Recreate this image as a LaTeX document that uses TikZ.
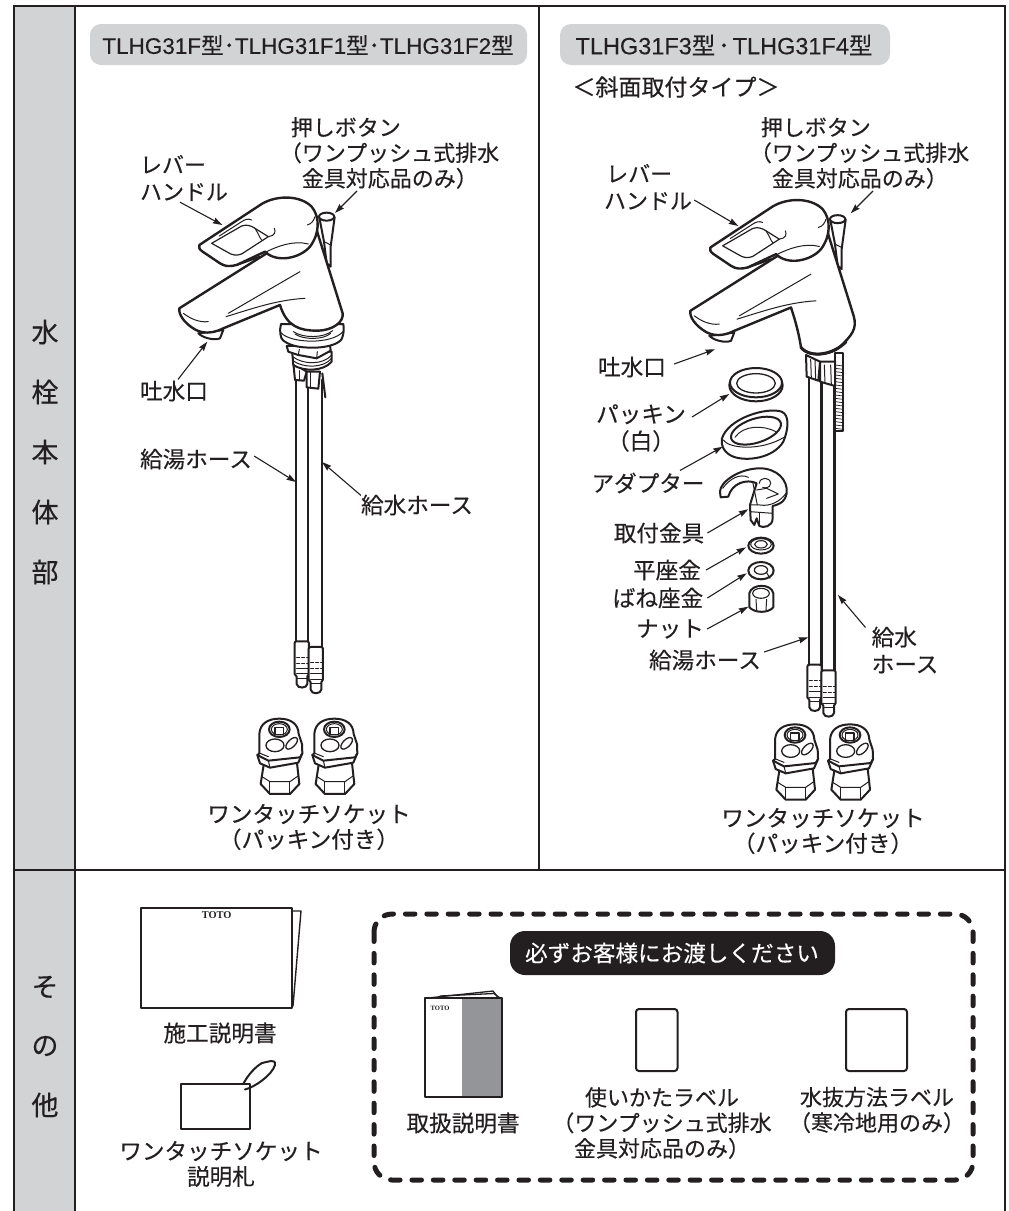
\documentclass[tikz,border=0pt]{standalone}
\usepackage{fontspec}
\setmainfont{Noto Sans CJK JP}[FakeBold=0.3]
\newfontfamily\latfont{Liberation Sans}[FakeBold=0.15]
\newfontfamily\serfont{Liberation Serif}
\usetikzlibrary{arrows.meta}
\definecolor{ink}{HTML}{231F20}
\definecolor{sidegray}{HTML}{D1D3D4}
\definecolor{bookgray}{HTML}{939598}
\newcommand{\Dot}{･}
\newcommand{\DotW}{\kern.12em ･\kern.12em }
\newcommand{\Lat}[1]{{\latfont #1}}
\tikzset{
 ln/.style={line width=2pt,draw=ink,line join=round,line cap=round},
 lf/.style={ln,fill=white},
 thn/.style={line width=1pt,draw=ink,line join=round,line cap=round},
 frame/.style={line width=2.2pt,draw=ink},
 ldr/.style={line width=1.1pt,draw=ink,-{Stealth[length=9.5pt,width=6pt,inset=1pt]}},
 lbl/.style={inner sep=0pt,text=ink,font=\fontsize{22.6}{25.5}\selectfont},
 lblS/.style={inner sep=0pt,text=ink,font=\fontsize{22}{25.5}\selectfont},
 lblL/.style={lbl,align=left},
 lblC/.style={lbl,align=center},
 side/.style={inner sep=0pt,text=ink,font=\fontsize{27}{30}\selectfont},
 pill/.style={fill=sidegray,rounded corners=11pt},
 toto/.style={inner sep=0pt,text=ink,font=\serfont\bfseries},
 zm/.style={x=.3333pt,y=-.3333pt},
}
% faucet in the coordinates of crop (120,100)x3; #1 is the neck run from (668,640) back to (480,615)
\newcommand{\faucetTop}[1]{
 \draw[lf] (598,352) -- (612,425) -- (620,490) -- (632,500) -- (632,440) -- (644,352) -- cycle;
 \draw[lf] (620,350) ellipse [x radius=23,y radius=12];
 \draw[thn] (612,425) -- (632,435);
 \draw[lf] (235,700) .. controls (250,715) and (285,722) .. (300,715) -- (310,690) -- cycle;
 \draw[lf,line width=2.4pt] (178,625) -- (440,460) -- (590,390) -- (668,640) #1
   -- (310,685) .. controls (280,700) and (245,705) .. (215,682) .. controls (195,668) and (175,645) .. (178,625) -- cycle;
 \draw[thn] (190,640) .. controls (210,655) and (235,668) .. (265,665);
 \draw[thn] (325,640) -- (540,515);
 \draw[thn] (318,650) .. controls (400,625) and (470,600) .. (555,595);
 \draw[lf,line width=2.4pt] (238,435) -- (425,312) .. controls (470,285) and (540,285) .. (575,320)
   .. controls (600,350) and (600,400) .. (570,440) .. controls (540,475) and (470,490) .. (435,455)
   -- (350,495) .. controls (330,500) and (315,500) .. (300,490) -- (248,455) .. controls (238,448) and (235,442) .. (238,435) -- cycle;
 \draw[ln,line width=1.2pt] (275,430) -- (365,378) .. controls (380,372) and (395,378) .. (405,385) -- (445,410)
    -- (365,462) .. controls (350,468) and (335,465) .. (325,458) -- cycle;
 \draw[thn] (298,408) -- (365,365) .. controls (375,358) and (385,355) .. (395,360);
 \draw[thn] (405,385) .. controls (415,400) and (420,415) .. (425,420);
 \draw[thn] (445,410) .. controls (465,408) and (468,395) .. (463,385);
 \draw[thn] (440,455) .. controls (470,440) and (520,420) .. (565,432);
 \draw[thn] (562,375) .. controls (575,372) and (582,360) .. (585,350);
 \draw[ln] (350,495) -- (420,470);
}
% hose ends in the coordinates of crop (780,620)x3
\newcommand{\hoseEnd}{
 \draw[lf] (82,140) .. controls (82,135) and (85,134) .. (90,134) -- (118,134) .. controls (123,134) and (125,136) .. (125,140)
   -- (125,232) -- (120,240) -- (120,262) .. controls (120,275) and (90,278) .. (88,262) -- (88,240) -- (82,232) -- cycle;
 \draw[ln,line width=1pt,dash pattern=on 3pt off 2pt] (88,182) -- (122,182);
 \draw[ln,line width=1pt,dash pattern=on 3pt off 2pt] (88,200) -- (122,200);
 \draw[thn] (88,215) -- (122,215);
 \draw[thn] (88,232) -- (122,232);
 \draw[thn] (88,245) -- (120,245);
}
% one-touch socket in the coordinates of crop (240,640)x3
\newcommand{\socket}{
 \draw[lf] (72,368) -- (62,432) -- (90,462) -- (150,462) -- (178,432) -- (170,360) -- cycle;
 \draw[thn] (66,410) -- (90,425) -- (150,425) -- (174,408);
 \draw[thn] (90,425) -- (90,462);
 \draw[thn] (150,425) -- (150,462);
 \draw[lf] (52,345) -- (60,370) -- (90,383) -- (175,368) -- (187,340) -- (186,312) -- (176,282)
   .. controls (175,250) and (150,236) .. (118,236) .. controls (85,236) and (60,250) .. (58,282) -- (58,340) -- cycle;
 \draw[ln] (52,345) -- (85,362) -- (180,352) -- (187,340);
 \draw[thn] (60,340) -- (85,350);
 \draw[thn] (85,362) -- (90,383);
 \draw[ln] (118,268) ellipse [x radius=31,y radius=23];
 \draw[thn] (118,268) ellipse [x radius=24,y radius=17];
 \draw[ln,line width=1.1pt] (105,262) -- (130,262) -- (130,284) -- (105,284) -- cycle;
 \draw[ln,line width=1.3pt] (105,316) ellipse [x radius=27,y radius=19];
 \draw[ln,line width=1.3pt,rotate around={45:(155,310)}] (155,310) ellipse [x radius=22,y radius=11];
}
\begin{document}
\begin{tikzpicture}[x=1pt,y=-1pt]
\useasboundingbox (0,0) rectangle (1009,1211);
\fill[white] (0,0) rectangle (1009,1211);
% table
\fill[sidegray] (14,6) rectangle (75,1211);
\draw[frame] (14,1211) -- (14,6) -- (1005,6) -- (1005,1211);
\draw[frame] (75,6) -- (75,1211);
\draw[frame] (539,6) -- (539,870);
\draw[frame] (14,870) -- (1005,870);
\node[side] (s1) at (45,332) {水};
\node[side] (s2) at (45,392) {栓};
\node[side] (s3) at (45,452) {本};
\node[side] (s4) at (45,512) {体};
\node[side] (s5) at (45,572) {部};
\node[side] (s6) at (45,987) {そ};
\node[side] (s7) at (45,1046) {の};
\node[side] (s8) at (45,1105) {他};
% header pills
\path[pill] (90,24) rectangle (527,65);
\path[pill] (560,24) rectangle (890,65);
\node[lbl,font=\fontsize{22.5}{25}\selectfont] (p1) at (308,45) {\Lat{TLHG31F}型\Dot\Lat{TLHG31F1}型\Dot\Lat{TLHG31F2}型};
\node[lbl,font=\fontsize{23.5}{25}\selectfont] (p2) at (724,45) {\Lat{TLHG31F3}型\DotW\Lat{TLHG31F4}型};
\node[lbl,font=\fontsize{23}{25}\selectfont] (slope) at (676,87) {＜斜面取付タイプ＞};

% ---------- left assembly ----------
\draw[ln,line width=2.6pt] (296,380) -- (296,650);
\draw[ln,line width=2.6pt] (308,380) -- (308,655);
\draw[ln,line width=2.6pt] (322,380) -- (322,655);
\begin{scope}[shift={(-512.7,-23.4)},shift={(780,620)},zm]
 \hoseEnd
 \begin{scope}[shift={(42,17)}]\hoseEnd\end{scope}
\end{scope}
\begin{scope}[shift={(260,310)},zm]
 \draw[lf] (100,160) -- (105,210) -- (132,212) -- (140,185) -- cycle;
 \draw[lf] (140,185) -- (140,232) -- (175,236) -- (180,185) -- cycle;
 \draw[thn] (118,182) -- (118,212);
 \draw[thn] (152,185) -- (152,234);
 \draw[ln] (187,190) -- (196,262);
 \draw[lf] (96,120) -- (100,165) .. controls (130,185) and (190,185) .. (215,155) -- (215,125) -- cycle;
 \draw[thn] (98,140) .. controls (130,165) and (190,165) .. (215,135);
 \draw[thn] (99,152) .. controls (130,175) and (190,175) .. (215,145);
 \draw[lf] (80,108) -- (85,125) -- (115,135) -- (170,145) -- (212,122) -- (210,105) -- cycle;
 \draw[thn] (115,135) -- (118,118);
 \draw[thn] (170,145) -- (172,125);
 \draw[lf] (63,42) .. controls (58,60) and (60,85) .. (70,92) .. controls (95,110) and (125,113) .. (160,113)
    .. controls (205,113) and (240,100) .. (246,85) .. controls (252,70) and (252,55) .. (250,42) -- cycle;
 \draw[thn] (63,68) .. controls (90,100) and (215,105) .. (250,64);
 \draw[thn] (100,65) .. controls (130,85) and (190,85) .. (218,62);
 \draw[thn] (105,72) .. controls (130,90) and (190,90) .. (212,70);
\end{scope}
\begin{scope}[shift={(120,100)},zm]
 \faucetTop{.. controls (672,665) and (640,692) .. (590,692) .. controls (540,692) and (500,680) .. (480,615)}
\end{scope}
\begin{scope}[shift={(240,640)},zm]
 \socket
 \begin{scope}[shift={(165,0)}]\socket\end{scope}
\end{scope}
\node[lblS,align=left] (lBtn) at (395,153) {押しボタン\\\kern-.5em（ワンプッシュ式排水\\\kern.5em 金具対応品のみ）};
\node[lblL,font=\fontsize{22}{27}\selectfont] (lLev) at (184,178) {レバー\\ハンドル};
\node[lbl] (lSpt) at (174,391) {吐水口};
\node[lbl] (lHot) at (196,459) {給湯ホース};
\node[lbl] (lCld) at (417,505) {給水ホース};
\node[lblC] (lSoc) at (309,827) {ワンタッチソケット\\（パッキン付き）};
\coordinate (lBtnT) at (335,213);
\coordinate (lLevT) at (222.3,225);
\coordinate (lSptT) at (207.3,341.7);
\coordinate (lHotT) at (296,482);
\coordinate (lCldT) at (322,462);
\draw[ldr] ([xshift=-38,yshift=-2]lBtn.south) -- (lBtnT);
\draw[ldr] ([xshift=-4,yshift=-1]lLev.south) -- (lLevT);
\draw[ldr] ([xshift=4,yshift=1]lSpt.north) -- (lSptT);
\draw[ldr] ([xshift=2,yshift=3]lHot.east) -- (lHotT);
\draw[ldr] ([yshift=-1]lCld.north west) -- (lCldT);

% ---------- right assembly ----------
\begin{scope}[shift={(780,320)},zm]
 \draw[lf] (165,100) rectangle (190,332);
 \foreach \yy in {135,145,...,325} \draw[thn,line width=.7pt] (166,\yy) -- (189,\yy+3);
\end{scope}
\draw[ln,line width=2.6pt] (809,370) -- (809,670);
\draw[ln,line width=2.6pt] (821.7,370) -- (821.7,670);
\draw[ln,line width=2.6pt] (834.6,370) -- (834.6,676);
\begin{scope}[shift={(780,620)},zm]
 \hoseEnd
 \begin{scope}[shift={(42,17)}]\hoseEnd\end{scope}
\end{scope}
\begin{scope}[shift={(780,320)},zm]
 \draw[lf] (78,105) -- (80,170) -- (115,182) -- (120,125) -- cycle;
 \draw[thn] (92,118) -- (94,175);
 \draw[thn] (105,118) -- (107,178);
 \draw[lf] (120,125) -- (120,185) -- (165,198) -- (165,125) -- cycle;
 \draw[thn] (133,135) -- (135,190);
 \draw[thn] (152,135) -- (154,195);
\end{scope}
\begin{scope}[shift={(631,102.5)},zm]
 \faucetTop{.. controls (680,680) and (660,700) .. (630,730) .. controls (600,760) and (530,765) .. (510,735) .. controls (505,700) and (495,660) .. (480,615)}
 \draw[ln,line width=3pt] (510,735) .. controls (540,770) and (610,755) .. (645,718);
\end{scope}
\begin{scope}[shift={(600,350)},zm]
 % packing
 \draw[lf] (468,106) ellipse [x radius=80,y radius=48];
 \draw[lf] (468,98) ellipse [x radius=78,y radius=44];
 \draw[ln,line width=1.3pt] (468,100) ellipse [x radius=58,y radius=29];
 % adapter
 \draw[lf] (366,265) .. controls (385,205) and (500,170) .. (545,185) .. controls (570,195) and (565,240) .. (550,275)
   .. controls (520,325) and (440,335) .. (400,320) .. controls (375,310) and (362,290) .. (366,265) -- cycle;
 \draw[thn] (370,270) .. controls (385,295) and (480,305) .. (552,262);
 \draw[lf,rotate around={18:(468,242)}] (468,242) ellipse [x radius=78,y radius=36];
 \draw[thn] (405,262) .. controls (430,225) and (490,225) .. (528,245);
 % clip
 \draw[lf] (360,425) .. controls (360,395) and (420,355) .. (480,355) .. controls (530,355) and (565,390) .. (560,430)
   .. controls (555,460) and (530,465) .. (518,468) -- (518,505) .. controls (518,530) and (490,535) .. (478,528)
   -- (470,505) -- (463,525) -- (452,510) -- (450,465) -- (470,400) .. controls (440,385) and (395,400) .. (385,440) -- (362,442) -- cycle;
 \draw[thn] (368,415) .. controls (390,385) and (420,370) .. (445,382);
 \draw[thn] (450,465) -- (480,465) .. controls (510,470) and (540,455) .. (558,430);
 \draw[thn] (470,420) -- (500,415) -- (535,432) -- (500,445);
 \draw[thn] (478,400) .. controls (480,380) and (510,380) .. (512,400) .. controls (510,415) and (495,415) .. (488,412);
 \draw[thn] (458,395) -- (472,465);
 \draw[thn] (450,485) -- (518,490);
 \draw[thn] (478,490) -- (478,528);
 % flat washer
 \draw[lf] (483,587) ellipse [x radius=38,y radius=24];
 \draw[thn] (483,583) ellipse [x radius=31,y radius=17];
 \draw[ln,line width=1.1pt] (483,583) ellipse [x radius=19,y radius=11];
 % spring washer
 \draw[lf] (483,662) ellipse [x radius=38,y radius=26];
 \draw[ln,line width=1.2pt] (483,660) ellipse [x radius=20,y radius=13];
 \draw[thn] (500,668) -- (510,685);
 % nut
 \draw[lf] (448,730) -- (448,772) .. controls (465,790) and (505,790) .. (520,772) -- (520,730) .. controls (515,700) and (455,700) .. (448,730) -- cycle;
 \draw[lf,line width=1.1pt] (483,730) ellipse [x radius=25,y radius=15];
 \draw[thn] (468,748) -- (470,780);
 \draw[thn] (500,748) -- (498,780);
\end{scope}
\begin{scope}[shift={(755.7,645.7)},zm]
 \socket
 \begin{scope}[shift={(165,0)}]\socket\end{scope}
\end{scope}
\node[lblS,align=left] (rBtn) at (865,153) {押しボタン\\\kern-.5em（ワンプッシュ式排水\\\kern.5em 金具対応品のみ）};
\node[lblL,font=\fontsize{22}{27}\selectfont] (rLev) at (648,187) {\kern.1em レバー\\ハンドル};
\node[lbl] (rSpt) at (632,367) {吐水口};
\node[lblC,font=\fontsize{22.6}{27}\selectfont] (rPak) at (641,428) {パッキン\\（白）};
\node[lbl] (rAda) at (648,483) {アダプター};
\node[lbl] (rFit) at (659,533) {取付金具};
\node[lbl] (rFlt) at (667,570) {平座金};
\node[lbl] (rSpr) at (658,598) {ばね座金};
\node[lbl] (rNut) at (670,629) {ナット};
\node[lbl] (rHot) at (705,660) {給湯ホース};
\node[lblL,font=\fontsize{22.6}{27}\selectfont] (rCld) at (905,650) {給水\\ホース};
\node[lblC] (rSoc) at (823,831) {ワンタッチソケット\\（パッキン付き）};
\coordinate (rBtnT) at (850.7,213.3);
\coordinate (rLevT) at (738.3,226);
\coordinate (rSptT) at (715,349.3);
\coordinate (rPakT) at (729.3,394);
\coordinate (rAdaT) at (722.7,446.7);
\coordinate (rFitT) at (748.3,509.3);
\coordinate (rFltT) at (746,547.3);
\coordinate (rSprT) at (746.7,573.3);
\coordinate (rNutT) at (748.3,606.7);
\coordinate (rHotT) at (808.3,637.3);
\coordinate (rCldT) at (838,595);
\draw[ldr] ([xshift=8,yshift=-2]rBtn.south) -- (rBtnT);
\draw[ldr] ([xshift=2,yshift=-13]rLev.east) -- (rLevT);
\draw[ldr] ([xshift=8,yshift=3]rSpt.east) -- (rSptT);
\draw[ldr] ([xshift=6,yshift=11]rPak.east) -- (rPakT);
\draw[ldr] ([xshift=32,yshift=2]rAda.north) -- (rAdaT);
\draw[ldr] ([xshift=3]rFit.east) -- (rFitT);
\draw[ldr] ([xshift=5]rFlt.east) -- (rFltT);
\draw[ldr] ([xshift=4]rSpr.east) -- (rSprT);
\draw[ldr] ([xshift=3]rNut.east) -- (rNutT);
\draw[ldr] ([xshift=3,yshift=8]rHot.east) -- (rHotT);
\draw[ldr] ([xshift=-6,yshift=-1]rCld.north west) -- (rCldT);

% ---------- lower row ----------
\draw[ln,line width=1.4pt,fill=white] (292,911) -- (301,911) -- (293,1006);
\draw[ln,fill=white] (141,907.5) rectangle (292,1008);
\node[toto,font=\serfont\bfseries\fontsize{10.4}{11}\selectfont] (t1) at (216.7,915) {TOTO};
\node[lbl] (lDoc) at (220,1033) {施工説明書};
\draw[ln,fill=white] (180.7,1084.3) rectangle (250,1129.3);
\draw[ln] (245,1089.5) .. controls (255,1087) and (272,1075) .. (275,1065) .. controls (276,1058) and (268,1062) .. (262,1063) .. controls (255,1067) and (248,1075) .. (243,1084.3);
\node[lblC] (lTag) at (221,1164) {ワンタッチソケット\\説明札};
% dashed box
\draw[line width=5pt,draw=ink,line cap=round,dash pattern=on 9.5pt off 11.9pt,rounded corners=18pt] (374,914) rectangle (973,1180);
\path[fill=ink,rounded corners=15pt] (510,931) rectangle (835,975);
\node[lbl,text=white] (must) at (672,953) {必ずお客様にお渡しください};
% book
\path[fill=bookgray] (462.3,998.3) rectangle (501.7,1097);
\draw[thn,line width=1.3pt] (425,998.3) -- (493,991) -- (498.5,998.3);
\draw[thn,line width=1.3pt] (440,996) -- (494,993.5) -- (500,998);
\draw[ln] (425,998.3) rectangle (501.7,1097);
\node[toto,font=\serfont\bfseries\fontsize{6.6}{7}\selectfont] (t2) at (440,1008) {TOTO};
\node[lbl] (lBook) at (463,1123) {取扱説明書};
\draw[ln,rounded corners=3pt] (636,1009) rectangle (677.5,1071);
\draw[ln,rounded corners=3pt] (846,1009) rectangle (907,1071);
\node[lblS,align=center] (lUse) at (662,1123) {使いかたラベル\\（ワンプッシュ式排水\\金具対応品のみ）};
\node[lblS,align=center] (lDrain) at (877,1110) {水抜方法ラベル\\（寒冷地用のみ）};
\end{tikzpicture}
\end{document}
